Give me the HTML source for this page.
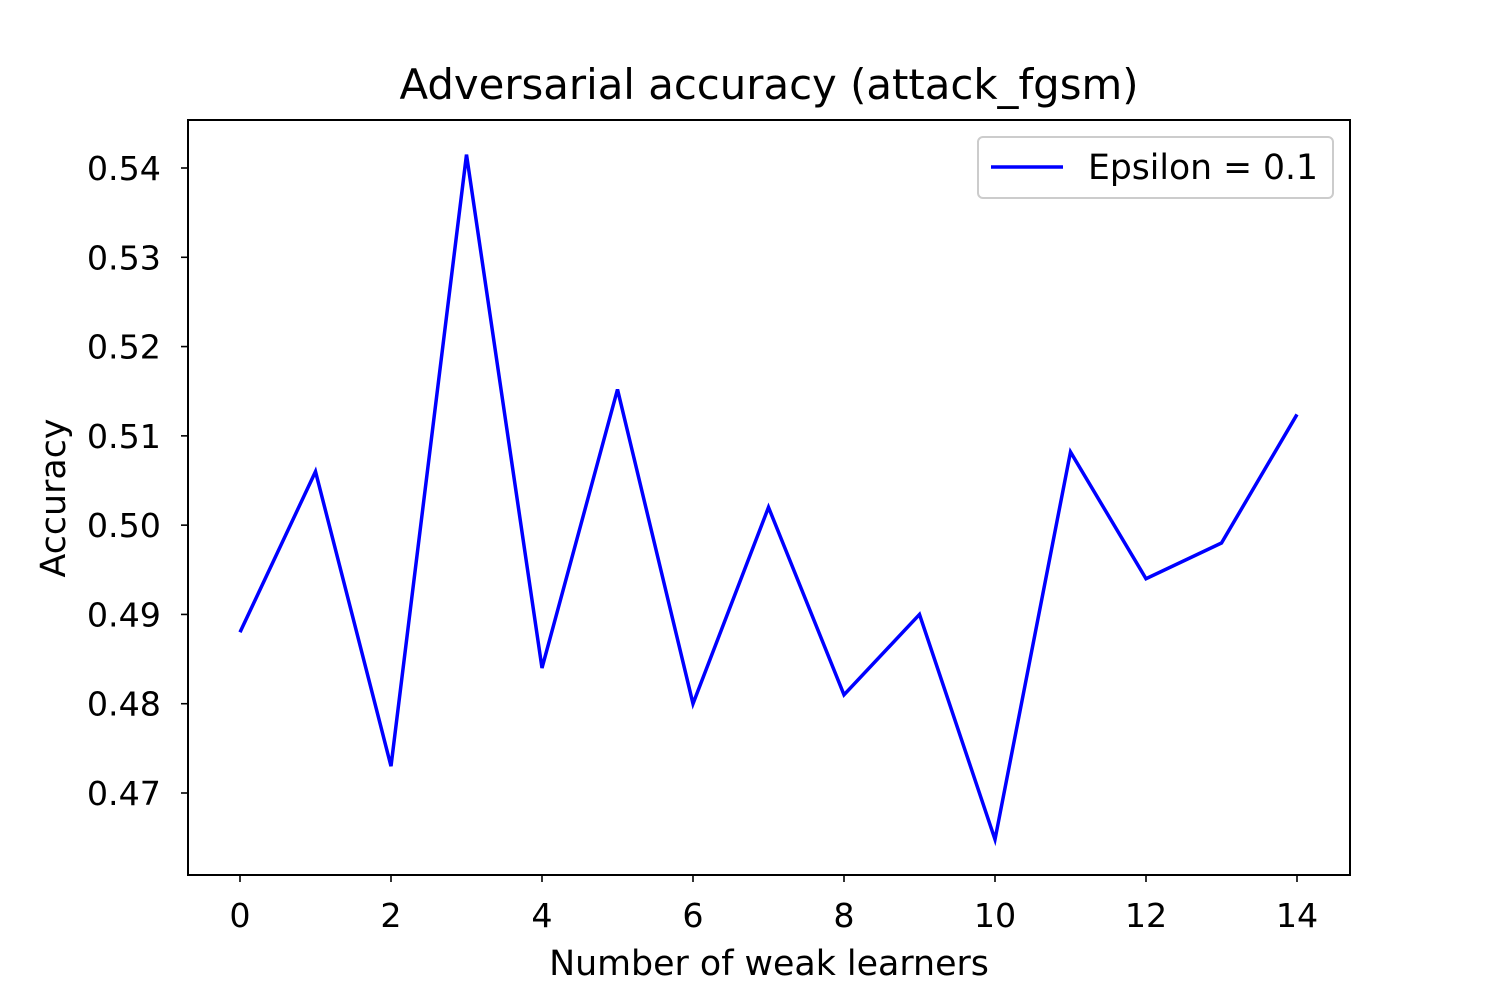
<!DOCTYPE html>
<html><head><meta charset="utf-8"><style>body{margin:0;background:#fff}svg{display:block;font-family:"DejaVu Sans","Liberation Sans",sans-serif}</style></head>
<body>
<svg id="chart" width="1500" height="1000">
<rect x="0" y="0" width="1500" height="1000" fill="#fff"/>
<text x="769" y="99" font-size="41.8" text-anchor="middle">Adversarial accuracy (attack_fgsm)</text>
<g id="ticks"></g>
<polyline id="line" fill="none" stroke="#0000ff" stroke-width="3.5" stroke-linejoin="miter"/>
<rect x="188" y="120" width="1162" height="755" fill="none" stroke="#000" stroke-width="2"/>
<text x="769" y="975" font-size="34.8" text-anchor="middle">Number of weak learners</text>
<text transform="translate(65,498) rotate(-90)" font-size="34.8" text-anchor="middle">Accuracy</text>
<g>
<rect x="978" y="137" width="355" height="61" rx="5" fill="#fff" stroke="#ccc" stroke-width="2"/>
<line x1="991" y1="167" x2="1063" y2="167" stroke="#0000ff" stroke-width="3.5"/>
<text x="1088" y="179" font-size="34.6">Epsilon = 0.1</text>
</g>
</svg>
<script>
const xValues=[0,1,2,3,4,5,6,7,8,9,10,11,12,13,14];
const accuracy=[0.488,0.506,0.473,0.5415,0.484,0.5152,0.480,0.502,0.481,0.490,0.4648,0.5082,0.494,0.498,0.5124];
const xTicks=[0,2,4,6,8,10,12,14];
const yTicks=[0.47,0.48,0.49,0.50,0.51,0.52,0.53,0.54];
const yTickLabels=["0.47","0.48","0.49","0.50","0.51","0.52","0.53","0.54"];
function sx(v){return 240+v*(1297-240)/14;}
function sy(v){return 168+(0.54-v)*(793-168)/0.07;}
const NS="http://www.w3.org/2000/svg";
const g=document.getElementById('ticks');
xTicks.forEach(t=>{
 const l=document.createElementNS(NS,'line');
 l.setAttribute('x1',sx(t));l.setAttribute('x2',sx(t));l.setAttribute('y1',875);l.setAttribute('y2',882);l.setAttribute('stroke','#000');l.setAttribute('stroke-width',1.6);
 
 
 g.appendChild(l);
 const tx=document.createElementNS(NS,'text');
 tx.setAttribute('x',sx(t));tx.setAttribute('y',927);tx.setAttribute('font-size',33.3);tx.setAttribute('text-anchor','middle');tx.textContent=t;
 
 
 g.appendChild(tx);
});
yTicks.forEach((t,i)=>{
 const l=document.createElementNS(NS,'line');
 l.setAttribute('x1',181);l.setAttribute('x2',188);l.setAttribute('y1',sy(t));l.setAttribute('y2',sy(t));l.setAttribute('stroke','#000');l.setAttribute('stroke-width',1.6);
 
 
 g.appendChild(l);
 const tx=document.createElementNS(NS,'text');
 tx.setAttribute('x',161);tx.setAttribute('y',sy(t)+12);tx.setAttribute('font-size',33.3);tx.setAttribute('text-anchor','end');tx.textContent=yTickLabels[i];
 
 
 g.appendChild(tx);
});
document.getElementById('line').setAttribute('points',xValues.map((x,i)=>sx(x)+','+sy(accuracy[i])).join(' '));
</script>
</body></html>
